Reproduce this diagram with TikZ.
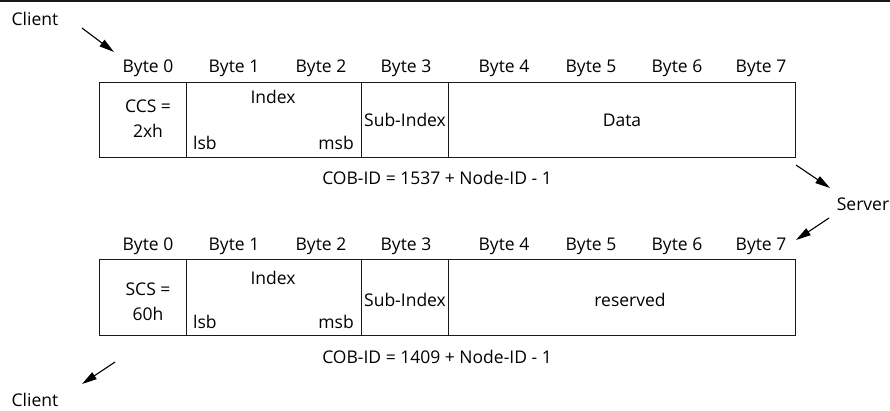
\documentclass[tikz,border=0pt]{standalone}
\usepackage{fontspec}
\setmainfont{Open Sans}
\usetikzlibrary{arrows.meta}
\begin{document}
\begin{tikzpicture}[x=1pt,y=-1pt,
  txt/.style={inner sep=0pt, text height=12pt, text depth=0pt,
    font=\fontsize{17.5}{20}\selectfont, text=black},
  twoline/.style={inner sep=0pt, align=center,
    font=\fontsize{17.5}{25}\selectfont, text=black},
  cell/.style={draw=black!90, line width=1.3pt, inner sep=0pt,
    anchor=north west},
  flow/.style={draw=black, line width=1.1pt,
    -{Triangle[length=15pt,width=8pt]}}]

\useasboundingbox (0,0) rectangle (890,410);
% rule along the top edge
\draw[line width=1.6pt, black!90] (0,1) -- (890,1);

% ---------- request frame (client to server) ----------
\node[txt] (client1) at (35,19) {Client};
\coordinate (a1s) at (82,28);
\coordinate (a1e) at (114,52);
\draw[flow] (a1s) -- (a1e);

\foreach \i/\x in {0/148,1/234,2/321,3/406,4/504,5/591,6/677,7/761}
  \node[txt] (tb\i) at (\x,66) {Byte \i};

\node[cell, minimum width=87pt,  minimum height=75pt] (tccs) at (99,82)  {};
\node[cell, minimum width=175pt, minimum height=75pt] (tidx) at (186,82) {};
\node[cell, minimum width=87pt,  minimum height=75pt] (tsub) at (361,82) {};
\node[cell, minimum width=347pt, minimum height=75pt] (tdat) at (448,82) {};

\node[twoline] (tccstext) at (148,119) {CCS =\\2xh};
\node[txt] (tidxtext) at (273,97) {Index};
\node[txt, anchor=west] (tlsb) at (193,143) {lsb};
\node[txt, anchor=east] (tmsb) at (354,143) {msb};
\node[txt] (tsubtext) at (405,120) {Sub-Index};
\node[txt] (tdattext) at (622,120) {Data};
\node[txt] (tcob) at (437,178) {COB-ID = 1537 + Node-ID - 1};

% ---------- response frame (server to client) ----------
\node[txt] (server) at (863,204) {Server};
\coordinate (a2s) at (796,165);
\coordinate (a2e) at (830,188);
\draw[flow] (a2s) -- (a2e);
\coordinate (a3s) at (829,218);
\coordinate (a3e) at (796,240);
\draw[flow] (a3s) -- (a3e);

\foreach \i/\x in {0/148,1/234,2/321,3/406,4/504,5/591,6/677,7/761}
  \node[txt] (bb\i) at (\x,244) {Byte \i};

\node[cell, minimum width=87pt,  minimum height=76pt] (bscs) at (99,259)  {};
\node[cell, minimum width=175pt, minimum height=76pt] (bidx) at (186,259) {};
\node[cell, minimum width=87pt,  minimum height=76pt] (bsub) at (361,259) {};
\node[cell, minimum width=347pt, minimum height=76pt] (bres) at (448,259) {};

\node[twoline] (bscstext) at (148,302) {SCS =\\60h};
\node[txt] (bidxtext) at (273,278) {Index};
\node[txt, anchor=west] (blsb) at (193,322) {lsb};
\node[txt, anchor=east] (bmsb) at (354,322) {msb};
\node[txt] (bsubtext) at (405,300) {Sub-Index};
\node[txt] (brestext) at (630,300) {reserved};
\node[txt] (bcob) at (437,357) {COB-ID = 1409 + Node-ID - 1};

\coordinate (a4s) at (115,362);
\coordinate (a4e) at (82,384);
\draw[flow] (a4s) -- (a4e);
\node[txt] (client2) at (35,400) {Client};
\end{tikzpicture}
\end{document}
